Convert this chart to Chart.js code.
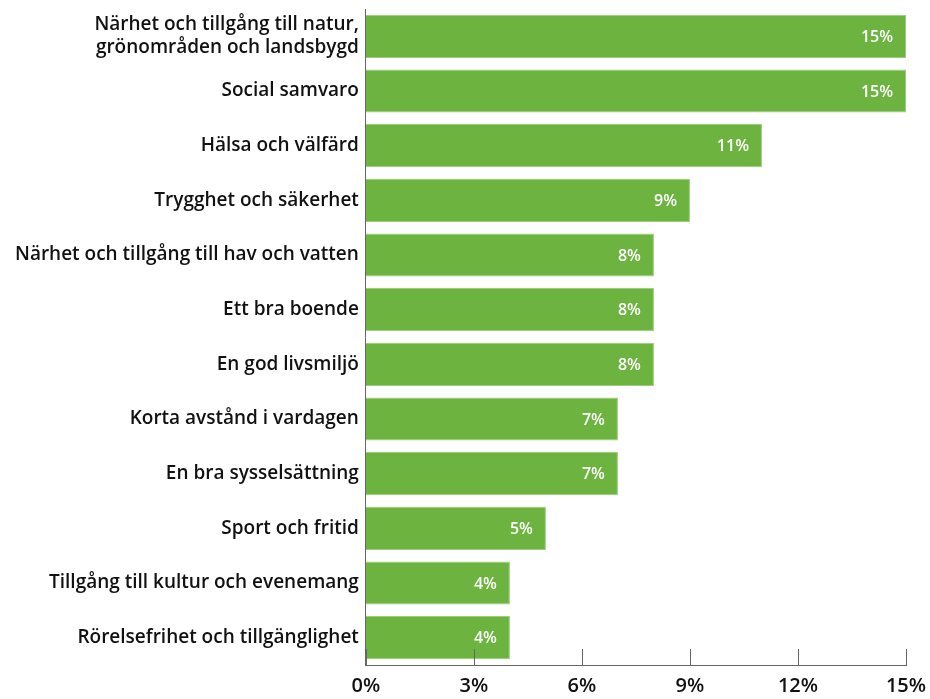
<!DOCTYPE html>
<html lang="sv">
<head>
  <meta charset="UTF-8" />
  <title>Viktigaste faktorer</title>
  <script src="https://cdn.jsdelivr.net/npm/chart.js"></script>
  <style>
    body { margin: 0; background: #fff; }
    #wrap { width: 930px; height: 699px; }
  </style>
</head>
<body>
  <div id="wrap"><canvas id="graf"></canvas></div>
  <script>
    const kategorier = [
      ['Närhet och tillgång till natur,', 'grönområden och landsbygd'],
      'Social samvaro',
      'Hälsa och välfärd',
      'Trygghet och säkerhet',
      'Närhet och tillgång till hav och vatten',
      'Ett bra boende',
      'En god livsmiljö',
      'Korta avstånd i vardagen',
      'En bra sysselsättning',
      'Sport och fritid',
      'Tillgång till kultur och evenemang',
      'Rörelsefrihet och tillgänglighet'
    ];
    const andelar = [15, 15, 11, 9, 8, 8, 8, 7, 7, 5, 4, 4];
    const xTicks = [0, 3, 6, 9, 12, 15];

    const typsnitt = "'Open Sans', sans-serif";

    // etiketter i staplarna + små streck uppåt från x-axeln
    const extra = {
      id: 'extra',
      afterDatasetsDraw(chart) {
        const c = chart.ctx;
        const meta = chart.getDatasetMeta(0);
        c.save();
        c.fillStyle = '#fff';
        c.font = '600 16px ' + typsnitt;
        c.textAlign = 'right';
        c.textBaseline = 'middle';
        meta.data.forEach((bar, i) => {
          c.fillText(andelar[i] + '%', bar.x - 13, bar.y + 1);
        });
        const xs = chart.scales.x;
        const bottom = chart.chartArea.bottom;
        c.strokeStyle = '#666';
        c.lineWidth = 1;
        xTicks.forEach(v => {
          const px = Math.round(xs.getPixelForValue(v)) + 0.5;
          c.beginPath();
          c.moveTo(px, bottom);
          c.lineTo(px, bottom - 16);
          c.stroke();
        });
        c.restore();
      }
    };

    // ingen automatisk utfyllnad kring axlarna, styrs via layout.padding
    const nollaPadding = s => {
      s.paddingTop = 0; s.paddingBottom = 0;
      s.paddingLeft = 0; s.paddingRight = 0;
    };

    new Chart(document.getElementById('graf'), {
      type: 'bar',
      data: {
        labels: kategorier,
        datasets: [{
          data: andelar,
          backgroundColor: '#6cb33f',
          borderColor: '#9ccd78',
          borderWidth: 1,
          barPercentage: 0.79,
          categoryPercentage: 1
        }]
      },
      options: {
        indexAxis: 'y',
        responsive: true,
        maintainAspectRatio: false,
        animation: false,
        layout: { padding: { top: 9, right: 24, bottom: 0, left: 8 } },
        plugins: { legend: { display: false }, tooltip: { enabled: false } },
        scales: {
          x: {
            min: 0,
            max: 15,
            afterBuildTicks: s => { s.ticks = xTicks.map(v => ({ value: v })); },
            afterFit: s => { nollaPadding(s); s.height = 34; },
            grid: { display: false, drawTicks: false },
            border: { display: true, color: '#666', width: 1 },
            ticks: {
              color: '#111',
              padding: 9,
              font: { family: typsnitt, size: 20, weight: '600' },
              callback: v => v + '%'
            }
          },
          y: {
            afterFit: nollaPadding,
            grid: { display: false, drawTicks: false },
            border: { display: true, color: '#666', width: 1 },
            ticks: {
              color: '#111',
              padding: 7,
              font: { family: typsnitt, size: 19, weight: '600', lineHeight: 1.2 }
            }
          }
        }
      },
      plugins: [extra]
    });
  </script>
</body>
</html>
